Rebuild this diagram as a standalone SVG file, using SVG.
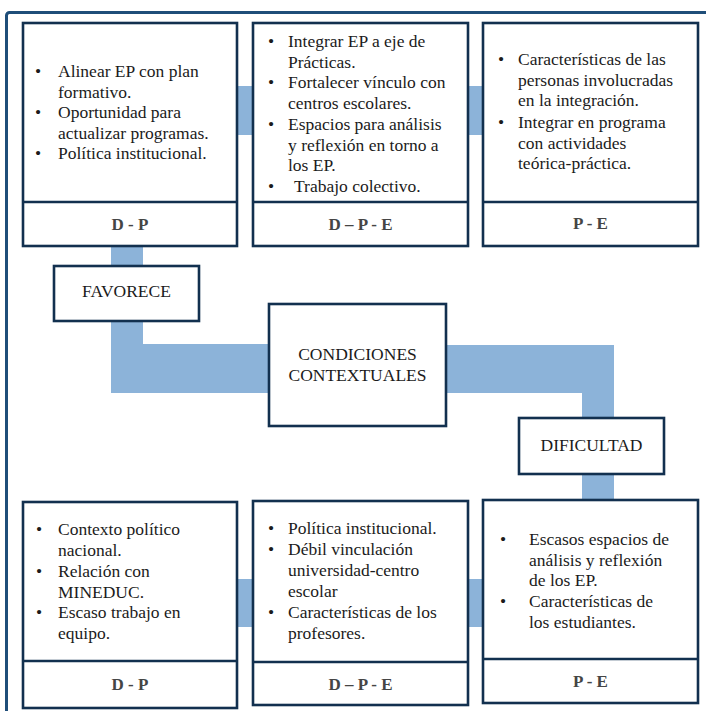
<svg xmlns="http://www.w3.org/2000/svg" width="706" height="711" viewBox="0 0 706 711">
<style>
.box{fill:#fff;stroke:#12304f;stroke-width:2.6}
.bar{fill:#8CB3D9}
.t{font-family:"Liberation Serif","Times New Roman",serif;font-size:17.5px;fill:#1b1b1b}
.lbl{font-family:"Liberation Serif","Times New Roman",serif;font-size:17px;font-weight:bold;fill:#454545;text-anchor:middle}
.c{font-family:"Liberation Serif","Times New Roman",serif;font-size:17.5px;fill:#1b1b1b;text-anchor:middle}
</style>
<rect width="706" height="711" fill="#fff"/>
<rect x="6.5" y="12.5" width="720" height="720" rx="3" fill="none" stroke="#1F4E79" stroke-width="3"/>
<g id="connectors">
<rect class="bar" x="230" y="86" width="30" height="49"/>
<rect class="bar" x="460" y="86" width="30" height="49"/>
<rect class="bar" x="111" y="240" width="32" height="153"/>
<rect class="bar" x="111" y="344" width="165" height="49"/>
<rect class="bar" x="440" y="345" width="174" height="48"/>
<rect class="bar" x="582" y="345" width="32" height="160"/>
<rect class="bar" x="230" y="579" width="30" height="48"/>
<rect class="bar" x="460" y="579" width="30" height="48"/>
</g>
<g id="box-top-dp">
<rect class="box" x="23" y="23" width="214" height="223"/>
<line x1="23" y1="202" x2="237" y2="202" stroke="#12304f" stroke-width="2.6"/>
<text class="t" x="35" y="77">•</text>
<text class="t" x="58" y="77">Alinear EP con plan</text>
<text class="t" x="58" y="97.5">formativo.</text>
<text class="t" x="35" y="118">•</text>
<text class="t" x="58" y="118">Oportunidad para</text>
<text class="t" x="58" y="138.5">actualizar programas.</text>
<text class="t" x="35" y="159">•</text>
<text class="t" x="58" y="159">Política institucional.</text>
<text class="lbl" x="130" y="230">D - P</text>
</g>
<g id="box-top-dpe">
<rect class="box" x="253" y="23" width="215" height="223"/>
<line x1="253" y1="202" x2="468" y2="202" stroke="#12304f" stroke-width="2.6"/>
<text class="t" x="268" y="47">•</text>
<text class="t" x="288" y="47">Integrar EP a eje de</text>
<text class="t" x="288" y="67.5">Prácticas.</text>
<text class="t" x="268" y="88">•</text>
<text class="t" x="288" y="88">Fortalecer vínculo con</text>
<text class="t" x="288" y="108.5">centros escolares.</text>
<text class="t" x="268" y="130">•</text>
<text class="t" x="288" y="130">Espacios para análisis</text>
<text class="t" x="288" y="150.5">y reflexión en torno a</text>
<text class="t" x="288" y="171">los EP.</text>
<text class="t" x="268" y="192">•</text>
<text class="t" x="294" y="192">Trabajo colectivo.</text>
<text class="lbl" x="360.5" y="230">D – P - E</text>
</g>
<g id="box-top-pe">
<rect class="box" x="483" y="23" width="215" height="223"/>
<line x1="483" y1="202" x2="698" y2="202" stroke="#12304f" stroke-width="2.6"/>
<text class="t" x="498" y="65">•</text>
<text class="t" x="518" y="65">Características de las</text>
<text class="t" x="518" y="85.5">personas involucradas</text>
<text class="t" x="518" y="106">en la integración.</text>
<text class="t" x="498" y="128">•</text>
<text class="t" x="518" y="128">Integrar en programa</text>
<text class="t" x="518" y="148.5">con actividades</text>
<text class="t" x="518" y="169">teórica-práctica.</text>
<text class="lbl" x="590.5" y="229">P - E</text>
</g>
<g id="favorece">
<rect class="box" x="54" y="266" width="145" height="55"/>
<text class="c" x="126.5" y="297">FAVORECE</text>
</g>
<g id="condiciones">
<rect class="box" x="269" y="304" width="177" height="122"/>
<text class="c" x="357.5" y="360">CONDICIONES</text>
<text class="c" x="357.5" y="381">CONTEXTUALES</text>
</g>
<g id="dificultad">
<rect class="box" x="519" y="418" width="145" height="56"/>
<text class="c" x="591.5" y="451">DIFICULTAD</text>
</g>
<g id="box-bot-dp">
<rect class="box" x="23" y="502" width="214" height="206"/>
<line x1="23" y1="661" x2="237" y2="661" stroke="#12304f" stroke-width="2.6"/>
<text class="t" x="36" y="535">•</text>
<text class="t" x="58" y="535">Contexto político</text>
<text class="t" x="58" y="556">nacional.</text>
<text class="t" x="36" y="577">•</text>
<text class="t" x="58" y="577">Relación con</text>
<text class="t" x="58" y="597.5">MINEDUC.</text>
<text class="t" x="36" y="618">•</text>
<text class="t" x="58" y="618">Escaso trabajo en</text>
<text class="t" x="58" y="638.5">equipo.</text>
<text class="lbl" x="130" y="690">D - P</text>
</g>
<g id="box-bot-dpe">
<rect class="box" x="253" y="501" width="215" height="204"/>
<line x1="253" y1="662" x2="468" y2="662" stroke="#12304f" stroke-width="2.6"/>
<text class="t" x="268" y="534">•</text>
<text class="t" x="288" y="534">Política institucional.</text>
<text class="t" x="268" y="555">•</text>
<text class="t" x="288" y="555">Débil vinculación</text>
<text class="t" x="288" y="576">universidad-centro</text>
<text class="t" x="288" y="597">escolar</text>
<text class="t" x="268" y="618">•</text>
<text class="t" x="288" y="618">Características de los</text>
<text class="t" x="288" y="638.5">profesores.</text>
<text class="lbl" x="360.5" y="690">D – P - E</text>
</g>
<g id="box-bot-pe">
<rect class="box" x="483" y="500" width="215" height="203"/>
<line x1="483" y1="659" x2="698" y2="659" stroke="#12304f" stroke-width="2.6"/>
<text class="t" x="500" y="545">•</text>
<text class="t" x="529" y="545">Escasos espacios de</text>
<text class="t" x="529" y="565.5">análisis y reflexión</text>
<text class="t" x="529" y="586">de los EP.</text>
<text class="t" x="500" y="607">•</text>
<text class="t" x="529" y="607">Características de</text>
<text class="t" x="529" y="627.5">los estudiantes.</text>
<text class="lbl" x="590.5" y="687">P - E</text>
</g>
</svg>
